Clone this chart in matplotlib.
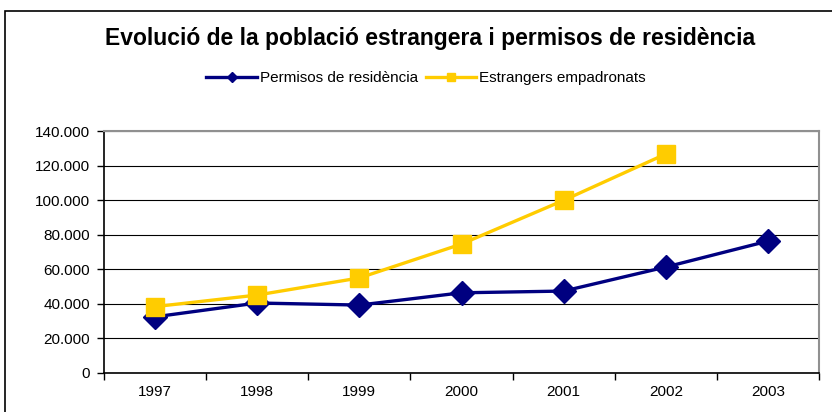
import matplotlib
matplotlib.use("Agg")
import matplotlib.pyplot as plt
from matplotlib.patches import Rectangle
from matplotlib.ticker import FuncFormatter, FixedLocator

years = ["1997", "1998", "1999", "2000", "2001", "2002", "2003"]
permisos = [32500, 40500, 39300, 46400, 47400, 61300, 76300]
estrangers = [38400, 45100, 55000, 74600, 99900, 126700]
yticks = [0, 20000, 40000, 60000, 80000, 100000, 120000, 140000]

plt.rcParams['font.family'] = ['Liberation Sans', 'DejaVu Sans']

W, H = 832, 412
fig = plt.figure(figsize=(W/100, H/100), dpi=100)
ax = fig.add_axes([104/W, 1-373/H, (819-104)/W, (373-131)/H])

x = list(range(len(years)))
ax.plot(x, permisos, color='#000080', lw=2.4, marker='D', markersize=12,
        markeredgecolor='#000080', markerfacecolor='#000080', label='Permisos de residència', zorder=3)
ax.plot(x[:len(estrangers)], estrangers, color='#FFCC00', lw=2.4, marker='s', markersize=13,
        markeredgecolor='#FFCC00', markerfacecolor='#FFCC00', label='Estrangers empadronats', zorder=3)

ax.set_xlim(-0.5, len(years)-0.5)
ax.set_ylim(0, 140000)
ax.set_yticks(yticks)
ax.yaxis.set_major_formatter(FuncFormatter(lambda v, p: f"{int(v):,}".replace(",", ".")))
ax.set_xticks(x)
ax.set_xticklabels(years)
ax.xaxis.set_minor_locator(FixedLocator([i-0.5 for i in range(len(years)+1)]))
ax.tick_params(axis='x', which='major', length=0, pad=9, labelsize=11)
ax.tick_params(axis='x', which='minor', length=5, width=1, color='black', direction='out')
ax.tick_params(axis='y', length=5, width=1, direction='out', labelsize=11, pad=5)
ax.grid(axis='y', color='black', lw=0.8)
ax.set_axisbelow(True)
for s in ['top', 'right']:
    ax.spines[s].set_color('#909090')
    ax.spines[s].set_linewidth(1.5)
for s in ['left', 'bottom']:
    ax.spines[s].set_color('black')
    ax.spines[s].set_linewidth(1.2)

fig.text(430/W, 1-38/H, "Evolució de la població estrangera i permisos de residència",
         ha='center', va='center', fontsize=16.5, fontweight='bold')

leg = fig.legend(loc='center', bbox_to_anchor=(426/W, 1-78/H), ncol=2, frameon=False,
                 fontsize=11, handlelength=3.3, columnspacing=0.5, handletextpad=0.2,
                 markerscale=0.45)

fig.patches.append(Rectangle((5/W, -0.1), 1.2, 1-11/H+0.1, transform=fig.transFigure,
                             fill=False, edgecolor='black', lw=1.2))

fig.savefig("out.png", dpi=100)
